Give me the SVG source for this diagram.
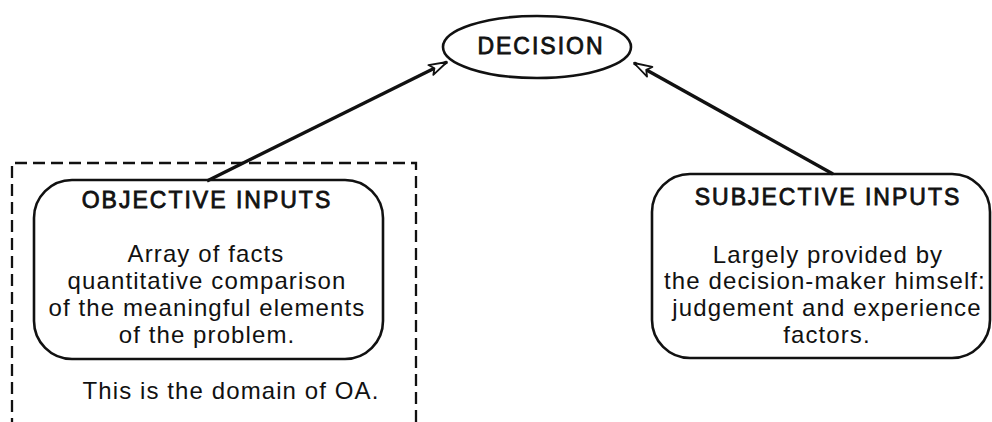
<svg xmlns="http://www.w3.org/2000/svg" width="992" height="422" viewBox="0 0 992 422">
  <defs>
    <style>
      .head { font-family: "Liberation Sans", Arial, sans-serif; font-size: 23px; letter-spacing: 2px; fill: #111; stroke: #111; stroke-width: 0.8px; text-anchor: middle; }
      .body { font-family: "Liberation Sans", Arial, sans-serif; font-size: 24px; letter-spacing: 1.1px; fill: #111; text-anchor: middle; }
      .box { fill: none; stroke: #111; stroke-width: 2.6; }
      .conn { stroke: #111; stroke-width: 3.4; fill: none; }
      .zone { fill: none; stroke: #111; stroke-width: 2.3; stroke-dasharray: 12 6; }
    </style>
    <marker id="arrow" viewBox="-20 -8 24 16" refX="0" refY="0" markerWidth="24" markerHeight="16" markerUnits="userSpaceOnUse" orient="auto">
      <path d="M0,0 L-18,-5.5 L-14,0 L-18,5.5 Z" fill="#fff" stroke="#111" stroke-width="1.8" stroke-linejoin="round"/>
    </marker>
  </defs>

  <!-- domain of operational analysis (dashed boundary, open at the bottom) -->
  <g id="oa-domain">
    <path class="zone" d="M12,430 L12,163 L416,163 L416,430"/>
    <text class="body" x="231" y="399">This is the domain of OA.</text>
  </g>

  <!-- connectors -->
  <g id="connectors">
    <line class="conn" x1="207" y1="181" x2="447" y2="62" marker-end="url(#arrow)"/>
    <line class="conn" x1="833" y1="174" x2="634" y2="63" marker-end="url(#arrow)"/>
  </g>

  <g id="decision">
    <ellipse class="box" cx="537" cy="47" rx="94" ry="31"/>
    <text class="head" x="541" y="54">DECISION</text>
  </g>

  <g id="objective-inputs">
    <rect class="box" x="34" y="180" width="349" height="179" rx="38" ry="38"/>
    <text class="head" x="207" y="208">OBJECTIVE INPUTS</text>
    <text class="body" x="206" y="262">Array of facts</text>
    <text class="body" x="207" y="289">quantitative comparison</text>
    <text class="body" x="207" y="316">of the meaningful elements</text>
    <text class="body" x="207" y="343">of the problem.</text>
  </g>

  <g id="subjective-inputs">
    <rect class="box" x="652" y="174" width="338" height="184" rx="38" ry="38"/>
    <text class="head" x="828" y="205">SUBJECTIVE INPUTS</text>
    <text class="body" x="828" y="263">Largely provided by</text>
    <text class="body" x="825" y="289">the decision-maker himself:</text>
    <text class="body" x="827" y="316">judgement and experience</text>
    <text class="body" x="827" y="343">factors.</text>
  </g>
</svg>
